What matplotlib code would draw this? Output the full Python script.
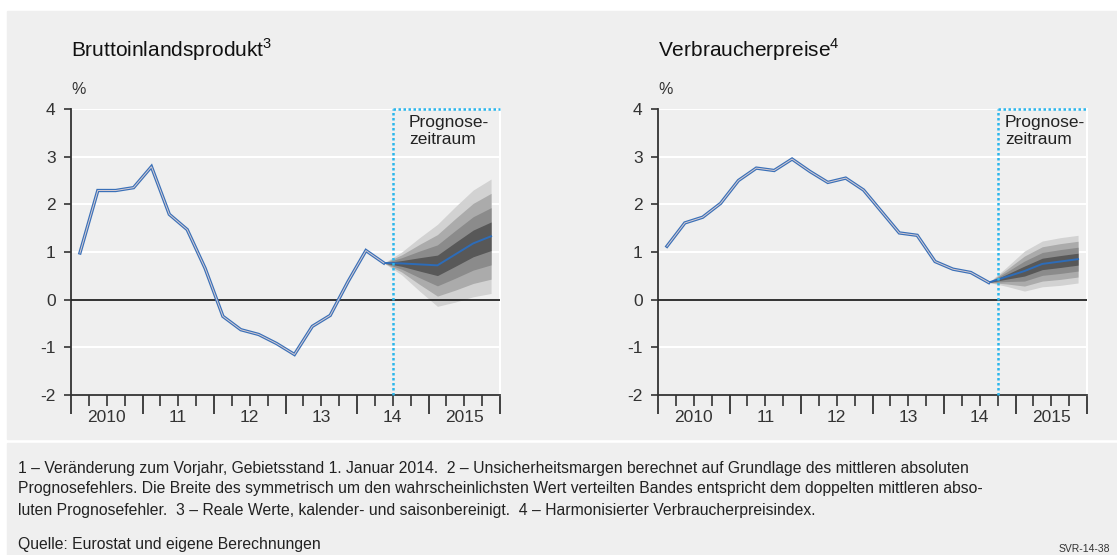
import matplotlib
matplotlib.use("Agg")
import matplotlib.pyplot as plt
from matplotlib.patches import Rectangle
from matplotlib.transforms import blended_transform_factory

plt.rcParams['font.family'] = ['Liberation Sans', 'DejaVu Sans']
plt.rcParams['mathtext.fontset'] = 'custom'
plt.rcParams['mathtext.rm'] = 'Liberation Sans'
plt.rcParams['axes.unicode_minus'] = False

# Daten (Quartalswerte ab 2010 Q1)
year_labels = ['2010', '11', '12', '13', '14', '2015']

bip_hist = [0.98, 2.29, 2.29, 2.35, 2.79, 1.79, 1.47, 0.66, -0.35, -0.63,
            -0.73, -0.92, -1.15, -0.56, -0.33, 0.38, 1.03, 0.77]
bip_fc = [0.77, 0.76, 0.74, 0.72, 0.95, 1.18, 1.33]
bip_err = [0.0, 0.06, 0.14, 0.215, 0.25, 0.28, 0.30]

vpi_hist = [1.12, 1.61, 1.73, 2.02, 2.50, 2.76, 2.71, 2.95, 2.69, 2.46,
            2.55, 2.30, 1.85, 1.40, 1.35, 0.80, 0.64, 0.57, 0.36]
vpi_fc = [0.36, 0.48, 0.60, 0.75, 0.80, 0.85]
vpi_err = [0.0, 0.05, 0.105, 0.12, 0.125, 0.125]

band_colors = ['#d2d2d2', '#ababab', '#8b8b8b', '#585858']

BG = '#efefef'
W, H = 1117, 555

fig = plt.figure(figsize=(W / 100, H / 100), dpi=100, facecolor='white')
fig.patches.append(Rectangle((7 / W, 1 - 439 / H), 1 - 7 / W, 428 / H,
                             transform=fig.transFigure, color=BG, zorder=-10))
fig.patches.append(Rectangle((7 / W, 0), 1 - 7 / W, 1 - 443 / H,
                             transform=fig.transFigure, color=BG, zorder=-10))


def panel(left_px, hist, fc, err, title, text_x):
    ax = fig.add_axes([left_px / W, 1 - 395 / H, 429 / W, 286 / H])
    ax.set_facecolor(BG)
    ax.set_xlim(0, 24)
    ax.set_ylim(-2, 4)

    ax.spines['top'].set_visible(False)
    ax.spines['right'].set_color('white')
    ax.spines['right'].set_linewidth(1.5)
    for s in ['left', 'bottom']:
        ax.spines[s].set_color('#333333')
        ax.spines[s].set_linewidth(1.3)

    ax.set_yticks(range(-2, 5))
    ax.tick_params(axis='y', length=5, width=1.2, color='#333333',
                   labelsize=12.5, pad=6, labelcolor='#333333')
    ax.set_xticks(range(0, 25, 4))
    ax.set_xticklabels([])
    ax.set_xticks(range(0, 25), minor=True)
    ax.tick_params(axis='x', which='major', length=14, width=1.3, color='#333333')
    ax.tick_params(axis='x', which='minor', length=8, width=1.2, color='#333333')

    ax.grid(axis='y', color='white', lw=1.5, zorder=0)
    ax.set_axisbelow(True)
    ax.axhline(0, color='#222222', lw=1.3, zorder=3)

    trans = blended_transform_factory(ax.transData, ax.transAxes)
    for i, lab in enumerate(year_labels):
        ax.text(4 * i + 2, -0.08, lab, transform=trans, ha='center', va='center',
                fontsize=12.5, color='#333333')

    n = len(hist)
    xh = [i + 0.5 for i in range(n)]
    xf = [n - 0.5 + i for i in range(len(fc))]

    # Unsicherheitsbänder
    for k, col in zip([4, 3, 2, 1], band_colors):
        lo = [c - k * e for c, e in zip(fc, err)]
        hi = [c + k * e for c, e in zip(fc, err)]
        ax.fill_between(xf, lo, hi, color=col, lw=0, zorder=2)
    ax.plot(xf, fc, color='#2d6cb8', lw=1.4, zorder=4)

    ax.plot(xh, hist, color='#3a70b8', lw=2.4, zorder=4, solid_joinstyle='miter')
    ax.plot(xh, hist, color='#d8cdd2', lw=0.7, zorder=5, solid_joinstyle='miter')

    # Prognosezeitraum
    ax.plot([n, n], [-2, 4], color='#2bb6ec', lw=1.8, ls=(0, (1, 1)), zorder=6,
            clip_on=False)
    ax.plot([n, 24], [4, 4], color='#2bb6ec', lw=1.8, ls=(0, (1, 1)), zorder=6,
            clip_on=False)
    ax.text(n + text_x, 3.87, 'Prognose-\nzeitraum', ha='left', va='top',
            fontsize=12.5, linespacing=1.15, color='#222222')

    fig.text(left_px / W, 1 - 50 / H, title, ha='left', va='center',
             fontsize=15, color='#111111')
    fig.text(left_px / W, 1 - 89 / H, '%', ha='left', va='center',
             fontsize=11.5, color='#333333')
    return ax


panel(71, bip_hist, bip_fc, bip_err, r'Bruttoinlandsprodukt$^{\mathrm{3}}$', 0.9)
panel(658, vpi_hist, vpi_fc, vpi_err, r'Verbraucherpreise$^{\mathrm{4}}$', 0.4)

notes = [
    '1 – Veränderung zum Vorjahr, Gebietsstand 1. Januar 2014.  2 – Unsicherheitsmargen berechnet auf Grundlage des mittleren absoluten',
    'Prognosefehlers. Die Breite des symmetrisch um den wahrscheinlichsten Wert verteilten Bandes entspricht dem doppelten mittleren abso-',
    'luten Prognosefehler.  3 – Reale Werte, kalender- und saisonbereinigt.  4 – Harmonisierter Verbraucherpreisindex.',
]
for j, line in enumerate(notes):
    fig.text(18 / W, 1 - (468 + 21 * j) / H, line, ha='left', va='center',
             fontsize=11.3, color='#222222')
fig.text(18 / W, 1 - 545 / H, 'Quelle: Eurostat und eigene Berechnungen',
         ha='left', va='center', fontsize=11.3, color='#222222')
fig.text(1110 / W, 1 - 549 / H, 'SVR-14-38', ha='right', va='center',
         fontsize=7.5, color='#333333')

fig.savefig('out.png', dpi=100, facecolor='white')
